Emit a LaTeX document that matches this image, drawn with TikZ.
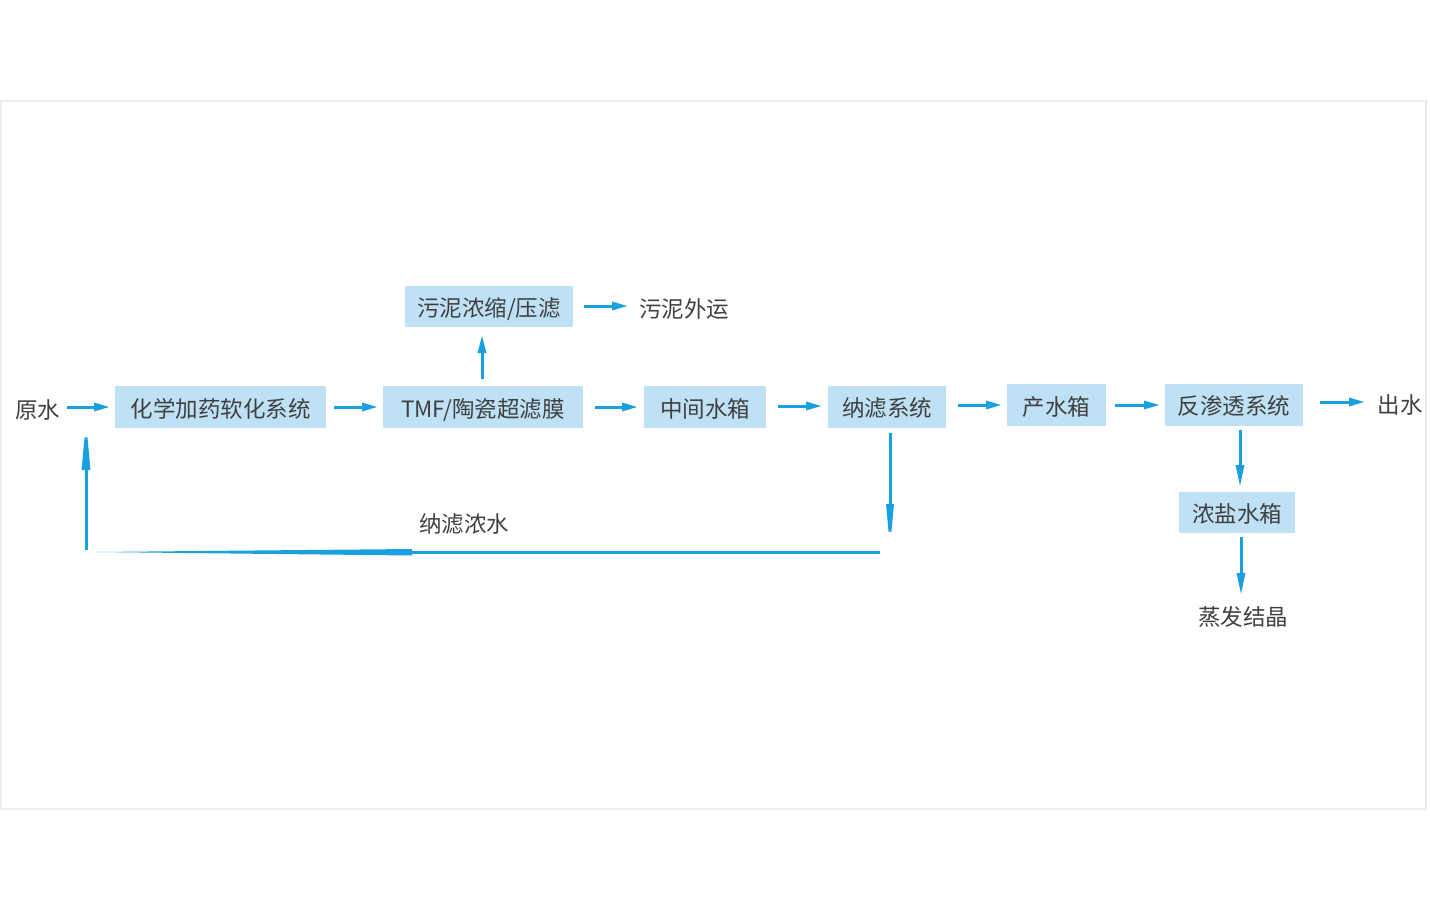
\documentclass[tikz,border=0pt]{standalone}
\usepackage{fontspec}
\setmainfont{Noto Sans CJK SC}
\usetikzlibrary{arrows.meta}
\definecolor{boxfill}{HTML}{BEE1F5}
\definecolor{arrowc}{HTML}{1A9FE0}
\definecolor{txt}{HTML}{404040}
\definecolor{framec}{HTML}{ECECEC}
\tikzset{
  every node/.style={font=\fontsize{22.5pt}{26pt}\selectfont, text=txt, inner sep=0pt,
    text height=22pt, text depth=2pt},
  box/.style={fill=boxfill, minimum height=42pt, anchor=center},
  lbl/.style={anchor=center},
  flow/.style={draw=arrowc, line width=3pt, -{Triangle[length=16pt,width=8pt]}},
}
\begin{document}
\begin{tikzpicture}[x=1pt,y=-1pt]
\useasboundingbox (0,0) rectangle (1430,900);
\draw[framec, line width=1.5pt] (1,101) rectangle (1426,809);

\node[lbl] (raw) at (38,408) {原水};
\node[box, minimum width=211pt] (chem) at (220.5,407) {化学加药软化系统};
\node[box, minimum width=200pt] (tmf) at (483,407) {TMF/陶瓷超滤膜};
\node[box, minimum width=122pt] (mid) at (705,407) {中间水箱};
\node[box, minimum width=118pt] (nf) at (887,406.5) {纳滤系统};
\node[box, minimum width=99pt] (prod) at (1056.5,405) {产水箱};
\node[box, minimum width=138pt] (ro) at (1234,404.5) {反渗透系统};
\node[lbl] (out) at (1400,403) {出水};
\node[box, minimum width=168pt, minimum height=41pt] (sludge) at (489,306.5) {污泥浓缩/压滤};
\node[lbl] (ship) at (684,307) {污泥外运};
\node[box, minimum width=116pt, minimum height=41pt] (brine) at (1237,512.5) {浓盐水箱};
\node[lbl] (evap) at (1243,615) {蒸发结晶};
\node[lbl] (nfc) at (464,522) {纳滤浓水};

% connector end points
\coordinate (a1s) at (67,407);   \coordinate (a1e) at (110,407);
\coordinate (a2s) at (334,407);  \coordinate (a2e) at (378,407);
\coordinate (a3s) at (595,407);  \coordinate (a3e) at (638,407);
\coordinate (a4s) at (778,406);  \coordinate (a4e) at (822,406);
\coordinate (a5s) at (958,405);  \coordinate (a5e) at (1002,405);
\coordinate (a6s) at (1115,405); \coordinate (a6e) at (1160,405);
\coordinate (a7s) at (1320,402); \coordinate (a7e) at (1365,402);
\coordinate (a8s) at (584,306);  \coordinate (a8e) at (628,306);
\coordinate (a9s) at (482,379);  \coordinate (a9e) at (482,335);
\coordinate (b1s) at (1240,430); \coordinate (b1e) at (1240,487);
\coordinate (b2s) at (1241,537); \coordinate (b2e) at (1241,595);
\coordinate (nfs) at (890,433);  \coordinate (nfdn) at (890,552);
\coordinate (bl) at (880,552);   \coordinate (bm) at (412,552);
\coordinate (br) at (95,552);
\coordinate (up0) at (86,550);   \coordinate (up1) at (86,418);

\draw[flow] (a1s) -- (a1e);
\draw[flow] (a2s) -- (a2e);
\draw[flow] (a3s) -- (a3e);
\draw[flow] (a4s) -- (a4e);
\draw[flow] (a5s) -- (a5e);
\draw[flow] (a6s) -- (a6e);
\draw[flow] (a7s) -- (a7e);
\draw[flow] (a8s) -- (a8e);
\draw[flow, -{Triangle[length=18pt,width=8pt]}] (a9s) -- (a9e);
\draw[flow, -{Triangle[length=22pt,width=8pt]}] (b1s) -- (b1e);
\draw[flow, -{Triangle[length=22pt,width=8pt]}] (b2s) -- (b2e);
\draw[flow, -{Triangle[length=48pt,width=7pt]}] (nfs) -- (nfdn);
\draw[arrowc, line width=3pt] (bl) -- (bm);
\fill[arrowc] (412,549) -- (412,555.5) -- (br) -- cycle;
\draw[flow, -{Triangle[length=52pt,width=8pt]}] (up0) -- (up1);
\end{tikzpicture}
\end{document}
